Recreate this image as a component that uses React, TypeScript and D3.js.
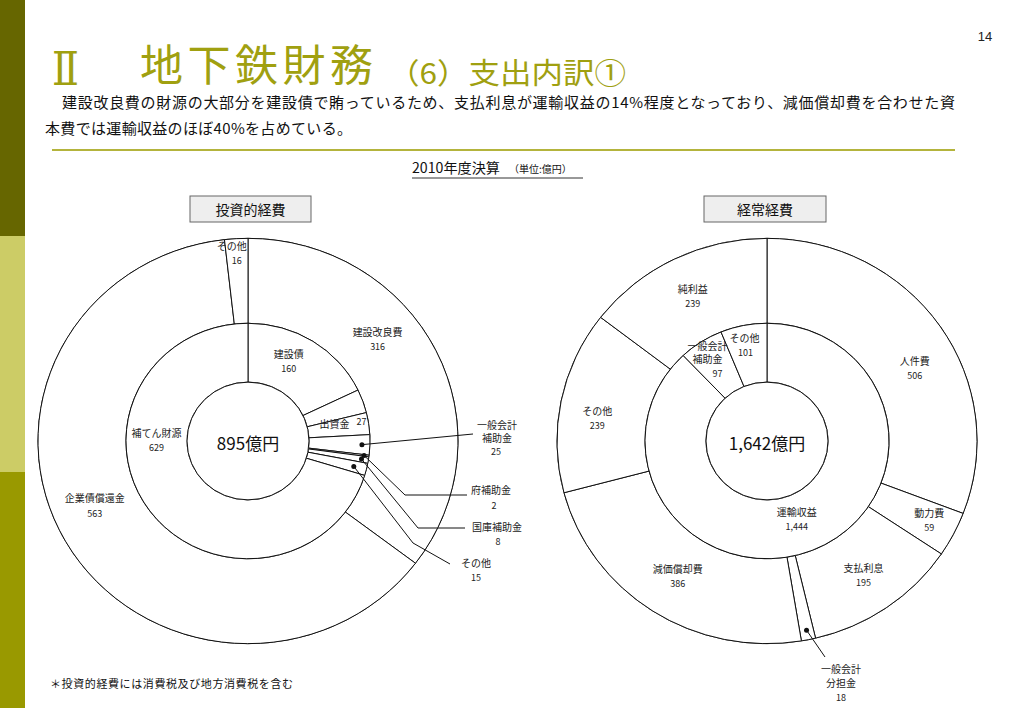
import React from 'react';
import * as d3 from 'd3';

// 投資的経費 (left): outer ring = uses, inner ring = sources
const investUseNames = ['建設改良費', '企業債償還金', 'その他'];
const investUseValues = [316, 563, 16];
const investSourceNames = ['建設債', '', '出資金', '一般会計補助金', '府補助金', '国庫補助金', 'その他', '補てん財源'];
const investSourceValues = [160, 29, 27, 25, 2, 8, 15, 629];
const investTotal = 895;

// 経常経費 (right)
const opUseNames = ['人件費', '動力費', '支払利息', '一般会計分担金', '減価償却費', 'その他', '純利益'];
const opUseValues = [506, 59, 195, 18, 386, 239, 239];
const opSourceNames = ['運輸収益', '一般会計補助金', 'その他'];
const opSourceValues = [1444, 97, 101];
const opTotal = 1642;

const W = 1023;
const H = 708;
const CY = 441;
const R_IN = 61;
const R_MID = 122;
const R_OUT = 210;
const SY = 0.965;
const FONT = "'Noto Sans CJK JP', 'Noto Sans', sans-serif";
const OLIVE = '#a0a010';

const fmt = d3.format(',');

type Line = [string, number, number, number];
type LabelSpec = { ring: 'outer' | 'inner'; i: number; lines: Line[] };
type LeaderSpec = { ring: 'outer' | 'inner'; i: number; r: number; path: [number, number][]; lines: Line[] };

// label offsets from the arc centroid; '{v}' is replaced by the value
const investLabels: LabelSpec[] = [
  { ring: 'outer', i: 0, lines: [['建設改良費', -19, -38, 10], ['{v}', -19, -23, 9]] },
  { ring: 'outer', i: 1, lines: [['企業債償還金', -9, -23, 10], ['{v}', -9, -7, 9]] },
  { ring: 'outer', i: 2, lines: [['その他', -7, -36, 10], ['{v}', -2, -21, 9]] },
  { ring: 'inner', i: 0, lines: [['建設債', -8, -13, 10], ['{v}', -8, 2, 9]] },
  { ring: 'inner', i: 2, lines: [['出資金', -4, -4, 10], ['{v}', 23, -6, 9]] },
  { ring: 'inner', i: 7, lines: [['補てん財源', -18, -61, 10], ['{v}', -18, -46, 9]] },
];

const investLeaders: LeaderSpec[] = [
  { ring: 'inner', i: 3, r: 114, path: [[473, 434]], lines: [['一般会計', 497, 424, 10], ['補助金', 497, 437, 10], ['{v}', 496, 451, 9]] },
  { ring: 'inner', i: 4, r: 117, path: [[405, 495], [467, 495]], lines: [['府補助金', 491, 489, 10], ['{v}', 494, 505, 9]] },
  { ring: 'inner', i: 5, r: 115, path: [[418, 528], [465, 528]], lines: [['国庫補助金', 497, 526, 10], ['{v}', 498, 541, 9]] },
  { ring: 'inner', i: 6, r: 109, path: [[413, 543], [450, 564]], lines: [['その他', 476, 562, 10], ['{v}', 476, 577, 9]] },
];

const opLabels: LabelSpec[] = [
  { ring: 'outer', i: 0, lines: [['人件費', 11, 10, 10], ['{v}', 11, 25, 9]] },
  { ring: 'outer', i: 1, lines: [['動力費', 15, -2, 10], ['{v}', 15, 13, 9]] },
  { ring: 'outer', i: 2, lines: [['支払利息', 2, -5, 10], ['{v}', 2, 10, 9]] },
  { ring: 'outer', i: 4, lines: [['減価償却費', 1, -7, 10], ['{v}', 1, 8, 9]] },
  { ring: 'outer', i: 5, lines: [['その他', -7, 1, 10], ['{v}', -7, 16, 9]] },
  { ring: 'outer', i: 6, lines: [['純利益', -1, -9, 10], ['{v}', -1, 6, 9]] },
  { ring: 'inner', i: 0, lines: [['運輸収益', -4, -12, 10], ['{v}', -4, 3, 9]] },
  { ring: 'inner', i: 1, lines: [['一般会計', -10, -21, 10], ['補助金', -10, -8, 10], ['{v}', 0, 7, 9]] },
  { ring: 'inner', i: 2, lines: [['その他', -5, -17, 10], ['{v}', -4, -2, 9]] },
];

const opLeaders: LeaderSpec[] = [
  { ring: 'outer', i: 3, r: 200, path: [[825, 657]], lines: [['一般会計', 841, 668, 10], ['分担金', 841, 682, 10], ['{v}', 841, 697, 9]] },
];

type DonutProps = {
  cx: number;
  outerVals: number[];
  innerVals: number[];
  total: number;
  labels: LabelSpec[];
  leaders: LeaderSpec[];
};

function Donut({ cx, outerVals, innerVals, total, labels, leaders }: DonutProps) {
  const pie = d3.pie<number>().sort(null).value(d => d);
  const outerArcs = pie(outerVals);
  const innerArcs = pie(innerVals);
  const arcOuter = d3.arc<d3.PieArcDatum<number>>().innerRadius(R_MID).outerRadius(R_OUT);
  const arcInner = d3.arc<d3.PieArcDatum<number>>().innerRadius(R_IN).outerRadius(R_MID);

  const pick = (ring: 'outer' | 'inner', i: number) =>
    ring === 'outer' ? { d: outerArcs[i], arc: arcOuter } : { d: innerArcs[i], arc: arcInner };

  const txt = (s: string, v: number) => s.replace('{v}', fmt(v));

  return (
    <g>
      <g transform={`translate(${cx},${CY}) scale(1,${SY})`}>
        <circle r={R_OUT} fill="#fff" stroke="#111" strokeWidth={1} vectorEffect="non-scaling-stroke" />
        {outerArcs.map((d, i) => (
          <path key={'o' + i} d={arcOuter(d) || ''} fill="#fff" stroke="#111" strokeWidth={1} vectorEffect="non-scaling-stroke" />
        ))}
        {innerArcs.map((d, i) => (
          <path key={'i' + i} d={arcInner(d) || ''} fill="#fff" stroke="#111" strokeWidth={1} vectorEffect="non-scaling-stroke" />
        ))}
        <circle r={R_IN} fill="#fff" stroke="#111" strokeWidth={1} vectorEffect="non-scaling-stroke" />
      </g>
      <text x={cx} y={CY + 1} textAnchor="middle" dominantBaseline="central" fontSize={17} fontFamily={FONT} fill="#111">
        {fmt(total)}億円
      </text>
      {labels.map((l, k) => {
        const { d, arc } = pick(l.ring, l.i);
        const c = arc.centroid(d);
        const x0 = cx + c[0];
        const y0 = CY + c[1] * SY;
        return (
          <g key={'l' + k}>
            {l.lines.map((ln, j) => (
              <text key={j} x={x0 + ln[1]} y={y0 + ln[2]} textAnchor="middle" dominantBaseline="central"
                fontSize={ln[3]} fontFamily={FONT} fill="#222">
                {txt(ln[0], d.data)}
              </text>
            ))}
          </g>
        );
      })}
      {leaders.map((l, k) => {
        const { d } = pick(l.ring, l.i);
        const a = (d.startAngle + d.endAngle) / 2;
        const px = cx + l.r * Math.sin(a);
        const py = CY - l.r * Math.cos(a) * SY;
        const pts: [number, number][] = [[px, py], ...l.path];
        return (
          <g key={'d' + k}>
            <path d={d3.line()(pts) || ''} fill="none" stroke="#111" strokeWidth={1} />
            <circle cx={px} cy={py} r={2.5} fill="#111" />
            {l.lines.map((ln, j) => (
              <text key={j} x={ln[1]} y={ln[2]} textAnchor="middle" dominantBaseline="central"
                fontSize={ln[3]} fontFamily={FONT} fill="#222">
                {txt(ln[0], d.data)}
              </text>
            ))}
          </g>
        );
      })}
    </g>
  );
}

export default function App() {
  return (
    <div style={{ position: 'fixed', left: 0, top: 0 }}>
      <svg width={W} height={H} style={{ display: 'block', background: '#fff' }}>
        {/* side bar */}
        <rect x={0} y={0} width={25} height={236} fill="#666600" />
        <rect x={0} y={236} width={25} height={236} fill="#cccc66" />
        <rect x={0} y={472} width={25} height={236} fill="#999900" />

        <text x={985} y={41} textAnchor="middle" fontSize={13} fontFamily="'Liberation Sans', Arial, sans-serif" fill="#222">14</text>

        {/* title */}
        <text x={52} y={85} fontSize={46} fontFamily="'DejaVu Serif', 'Liberation Serif', serif" fill={OLIVE} textLength={27} lengthAdjust="spacingAndGlyphs">Ⅱ</text>
        <text x={140} y={81} fontSize={43} fontFamily={FONT} fill={OLIVE} textLength={233} lengthAdjust="spacing">地下鉄財務</text>
        <text x={388} y={84} fontSize={29} fontFamily={FONT} fill={OLIVE} textLength={238} lengthAdjust="spacingAndGlyphs">（6）支出内訳①</text>

        <text x={62} y={108} fontSize={15} fontFamily={FONT} fill="#111" textLength={893} lengthAdjust="spacing">
          建設改良費の財源の大部分を建設債で賄っているため、支払利息が運輸収益の14%程度となっており、減価償却費を合わせた資
        </text>
        <text x={45} y={134} fontSize={15} fontFamily={FONT} fill="#111" textLength={307} lengthAdjust="spacing">
          本費では運輸収益のほぼ40%を占めている。
        </text>
        <line x1={52} x2={955} y1={150} y2={150} stroke="#b4b43c" strokeWidth={2} />

        {/* subtitle */}
        <text x={412} y={173} fontSize={14} fontFamily={FONT} fill="#111" textLength={88} lengthAdjust="spacingAndGlyphs">2010年度決算</text>
        <text x={509} y={173} fontSize={10} fontFamily={FONT} fill="#111">（単位:億円）</text>
        <line x1={412} x2={583} y1={178} y2={178} stroke="#333" strokeWidth={1} />

        {/* section boxes */}
        <rect x={190} y={196} width={121} height={26} fill="#eeeeee" stroke="#666" strokeWidth={1} />
        <text x={250.5} y={209} textAnchor="middle" dominantBaseline="central" fontSize={14} fontFamily={FONT} fill="#111">投資的経費</text>
        <rect x={704} y={196} width={122} height={26} fill="#eeeeee" stroke="#666" strokeWidth={1} />
        <text x={765} y={209} textAnchor="middle" dominantBaseline="central" fontSize={14} fontFamily={FONT} fill="#111">経常経費</text>

        <Donut cx={248} outerVals={investUseValues} innerVals={investSourceValues} total={investTotal}
          labels={investLabels} leaders={investLeaders} />
        <Donut cx={767} outerVals={opUseValues} innerVals={opSourceValues} total={opTotal}
          labels={opLabels} leaders={opLeaders} />

        <text x={50} y={688} fontSize={11} fontFamily={FONT} fill="#111" textLength={243} lengthAdjust="spacing">
          ＊投資的経費には消費税及び地方消費税を含む
        </text>
      </svg>
    </div>
  );
}
